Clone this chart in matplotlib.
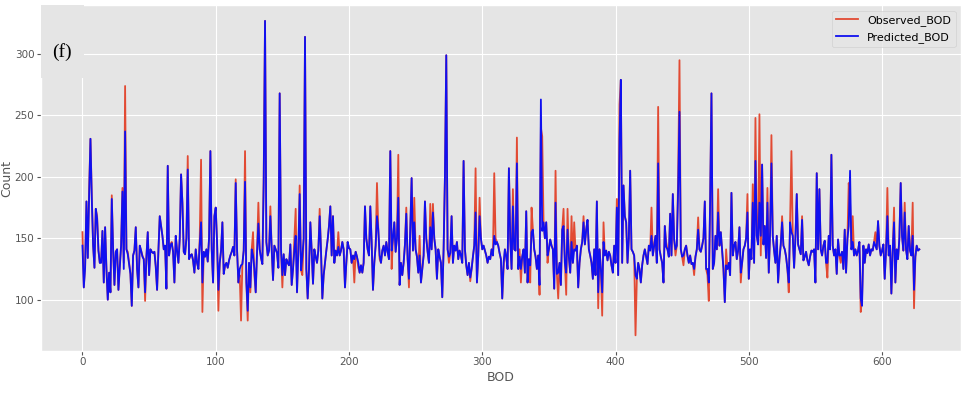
import matplotlib.pyplot as plt
from matplotlib.patches import Rectangle

plt.style.use('ggplot')

# observed BOD
observed = [
    155, 110, 128, 180, 134, 190, 231, 185, 145, 126,
    174, 168, 140, 130, 131, 156, 114, 159, 125, 100,
    122, 106, 185, 141, 112, 139, 141, 108, 128, 144,
    191, 130, 274, 141, 139, 130, 121, 95, 136, 140,
    159, 125, 110, 144, 140, 136, 133, 99, 135, 155,
    120, 141, 139, 138, 139, 127, 108, 140, 168, 160,
    152, 141, 144, 109, 209, 136, 145, 147, 139, 114,
    152, 140, 130, 150, 202, 179, 139, 137, 150, 217,
    133, 136, 137, 132, 122, 141, 130, 125, 150, 214,
    90, 139, 135, 141, 131, 150, 221, 141, 114, 168,
    175, 147, 91, 130, 140, 163, 121, 128, 130, 126,
    132, 136, 139, 143, 136, 198, 141, 114, 120, 83,
    129, 140, 221, 114, 83, 130, 106, 141, 155, 120,
    106, 140, 179, 141, 134, 129, 200, 327, 147, 136,
    140, 176, 141, 116, 144, 141, 138, 126, 268, 141,
    110, 137, 120, 133, 130, 128, 145, 112, 125, 150,
    174, 106, 140, 193, 124, 120, 150, 314, 125, 101,
    125, 163, 140, 113, 141, 135, 130, 140, 174, 140,
    101, 120, 130, 140, 149, 160, 176, 136, 168, 130,
    140, 136, 155, 136, 140, 147, 141, 110, 130, 147,
    142, 141, 130, 136, 114, 139, 135, 126, 122, 128,
    122, 130, 176, 150, 141, 136, 176, 147, 108, 130,
    144, 195, 157, 133, 130, 140, 144, 136, 147, 139,
    133, 221, 125, 150, 163, 139, 150, 218, 112, 130,
    120, 130, 145, 175, 133, 110, 157, 199, 140, 183,
    141, 135, 122, 152, 114, 125, 136, 180, 150, 139,
    130, 178, 141, 178, 150, 141, 117, 141, 135, 130,
    102, 141, 200, 299, 141, 130, 138, 168, 130, 144,
    140, 147, 133, 140, 136, 130, 213, 141, 128, 120,
    130, 115, 125, 135, 144, 207, 114, 136, 183, 150,
    141, 144, 140, 136, 130, 135, 133, 141, 136, 203,
    150, 147, 144, 138, 133, 101, 125, 141, 135, 125,
    207, 150, 125, 190, 141, 140, 232, 125, 141, 114,
    135, 141, 122, 172, 114, 133, 114, 175, 157, 141,
    135, 125, 136, 104, 240, 233, 163, 150, 163, 130,
    141, 149, 144, 141, 109, 205, 121, 101, 130, 112,
    157, 174, 130, 104, 174, 135, 122, 168, 130, 163,
    140, 144, 110, 130, 141, 147, 168, 145, 157, 165,
    141, 136, 130, 117, 141, 120, 180, 93, 141, 125,
    87, 163, 136, 140, 132, 139, 136, 128, 122, 144,
    130, 182, 120, 259, 279, 130, 193, 168, 163, 130,
    150, 205, 141, 139, 136, 71, 117, 130, 125, 114,
    128, 136, 141, 135, 129, 144, 140, 175, 136, 144,
    152, 130, 257, 141, 135, 130, 114, 160, 147, 141,
    135, 170, 136, 186, 149, 136, 144, 200, 295, 141,
    135, 128, 141, 144, 136, 130, 136, 129, 130, 120,
    135, 141, 167, 141, 139, 144, 150, 180, 125, 120,
    99, 180, 268, 125, 130, 152, 141, 190, 144, 155,
    140, 125, 98, 141, 125, 130, 120, 187, 136, 144,
    147, 133, 140, 159, 114, 130, 141, 144, 150, 186,
    117, 141, 133, 194, 130, 248, 152, 145, 251, 136,
    210, 145, 160, 134, 191, 122, 155, 234, 152, 140,
    130, 152, 114, 133, 145, 168, 144, 141, 135, 125,
    106, 163, 221, 152, 126, 150, 186, 145, 141, 137,
    168, 132, 135, 139, 132, 128, 135, 140, 139, 141,
    114, 203, 141, 190, 141, 136, 144, 148, 130, 118,
    152, 141, 218, 144, 136, 141, 121, 149, 136, 130,
    139, 125, 157, 122, 149, 195, 180, 141, 168, 136,
    141, 136, 140, 147, 90, 101, 144, 130, 141, 138,
    145, 136, 141, 140, 147, 155, 141, 164, 144, 136,
    140, 145, 117, 140, 191, 136, 144, 105, 140, 175,
    114, 141, 133, 150, 195, 152, 140, 179, 141, 133,
    160, 140, 136, 179, 93, 135, 144, 140, 141,
]

# predicted BOD
predicted = [
    144, 110, 126, 180, 134, 185, 231, 182, 144, 126,
    174, 166, 140, 130, 130, 156, 114, 159, 125, 100,
    122, 106, 182, 141, 112, 139, 141, 108, 126, 144,
    188, 125, 237, 141, 137, 129, 121, 95, 136, 140,
    159, 125, 110, 144, 140, 135, 133, 106, 135, 155,
    120, 141, 139, 138, 139, 127, 108, 140, 168, 160,
    152, 141, 144, 109, 209, 136, 144, 146, 139, 114,
    152, 140, 130, 150, 202, 179, 139, 137, 150, 206,
    133, 136, 137, 132, 122, 141, 130, 125, 145, 163,
    114, 139, 135, 141, 131, 150, 221, 141, 114, 168,
    175, 147, 108, 130, 140, 163, 121, 128, 130, 126,
    132, 136, 139, 143, 136, 195, 141, 114, 125, 128,
    129, 140, 196, 114, 91, 130, 110, 141, 136, 125,
    106, 138, 162, 141, 134, 129, 195, 327, 147, 136,
    140, 168, 141, 116, 144, 141, 138, 126, 268, 141,
    120, 137, 120, 133, 130, 128, 145, 112, 125, 140,
    152, 106, 140, 186, 124, 135, 150, 314, 125, 101,
    125, 163, 140, 113, 141, 135, 130, 140, 168, 140,
    101, 120, 130, 140, 149, 160, 176, 136, 168, 130,
    140, 136, 143, 136, 140, 147, 141, 110, 130, 147,
    142, 141, 130, 136, 133, 139, 135, 130, 122, 128,
    122, 130, 176, 150, 141, 136, 176, 147, 108, 130,
    144, 168, 157, 136, 130, 140, 144, 136, 147, 139,
    133, 221, 140, 150, 163, 139, 150, 183, 112, 130,
    120, 130, 145, 170, 133, 117, 157, 199, 140, 163,
    141, 135, 122, 136, 114, 125, 136, 180, 150, 139,
    130, 159, 141, 171, 150, 141, 117, 141, 135, 130,
    102, 141, 200, 299, 141, 135, 138, 168, 130, 144,
    140, 147, 133, 140, 136, 130, 213, 141, 128, 120,
    130, 118, 125, 135, 144, 171, 114, 136, 168, 150,
    141, 144, 140, 136, 130, 135, 133, 141, 136, 152,
    145, 147, 144, 138, 133, 101, 130, 141, 135, 125,
    207, 150, 125, 176, 141, 140, 211, 125, 135, 125,
    135, 141, 122, 172, 114, 133, 128, 155, 157, 141,
    135, 125, 136, 112, 263, 156, 163, 150, 163, 136,
    141, 149, 144, 141, 109, 179, 121, 122, 130, 112,
    157, 160, 130, 122, 157, 135, 122, 147, 130, 141,
    140, 144, 110, 130, 141, 147, 163, 145, 157, 165,
    141, 136, 130, 117, 141, 120, 180, 106, 141, 125,
    106, 147, 136, 140, 132, 139, 136, 128, 122, 144,
    130, 175, 120, 230, 279, 130, 193, 168, 163, 130,
    150, 205, 141, 139, 136, 120, 117, 130, 125, 114,
    128, 136, 141, 135, 129, 144, 140, 152, 136, 144,
    152, 130, 211, 141, 135, 130, 114, 160, 143, 141,
    135, 170, 136, 186, 149, 141, 144, 190, 253, 141,
    135, 136, 141, 144, 136, 130, 136, 129, 130, 125,
    135, 141, 157, 141, 139, 144, 150, 180, 125, 125,
    114, 180, 268, 125, 130, 152, 141, 171, 144, 155,
    140, 125, 98, 128, 125, 130, 120, 187, 136, 144,
    147, 133, 140, 159, 122, 130, 141, 144, 150, 171,
    117, 141, 133, 179, 130, 213, 152, 145, 179, 152,
    210, 145, 160, 134, 179, 122, 155, 211, 152, 140,
    130, 152, 114, 133, 145, 163, 144, 141, 135, 125,
    114, 163, 155, 152, 126, 150, 186, 145, 141, 137,
    165, 132, 135, 139, 132, 128, 135, 140, 139, 141,
    114, 203, 141, 190, 141, 136, 144, 148, 130, 130,
    152, 141, 218, 144, 136, 141, 121, 149, 136, 136,
    139, 125, 157, 122, 149, 160, 205, 141, 147, 136,
    141, 136, 140, 147, 101, 95, 144, 130, 141, 138,
    145, 136, 141, 140, 147, 144, 141, 164, 144, 136,
    140, 145, 117, 140, 168, 136, 144, 105, 140, 163,
    114, 141, 133, 150, 195, 152, 140, 171, 141, 133,
    160, 140, 136, 152, 108, 135, 144, 140, 141,
]

fig = plt.figure(figsize=(9.67, 3.98), dpi=100)
ax = fig.add_axes([0.042, 0.118, 0.952, 0.869])

ax.plot(range(len(observed)), observed, color='#E24A33', lw=1.3, label='Observed_BOD')
ax.plot(range(len(predicted)), predicted, color='#1010F0', lw=1.3, label='Predicted_BOD')

ax.set_xticks(range(0, 700, 100))
ax.set_yticks(range(100, 350, 50))
ax.tick_params(labelsize=7.5, colors='#555555', pad=1.5, length=3)
ax.set_xlabel('BOD', fontsize=9, color='#555555', labelpad=3)
ax.set_ylabel('Count', fontsize=9, color='#555555')
ax.yaxis.set_label_coords(-0.03, 0.5)

# panel tag pasted over the corner
ax.add_patch(Rectangle((0, 0.79), 0.047, 0.21, transform=ax.transAxes,
                       facecolor='#E5E5E5', edgecolor='none', zorder=3))
ax.text(0.023, 0.865, '(f)', transform=ax.transAxes, fontsize=14,
        family='Liberation Serif', ha='center', va='center', zorder=4)

ax.legend(loc='upper right', fontsize=8)

plt.savefig('out.png')
